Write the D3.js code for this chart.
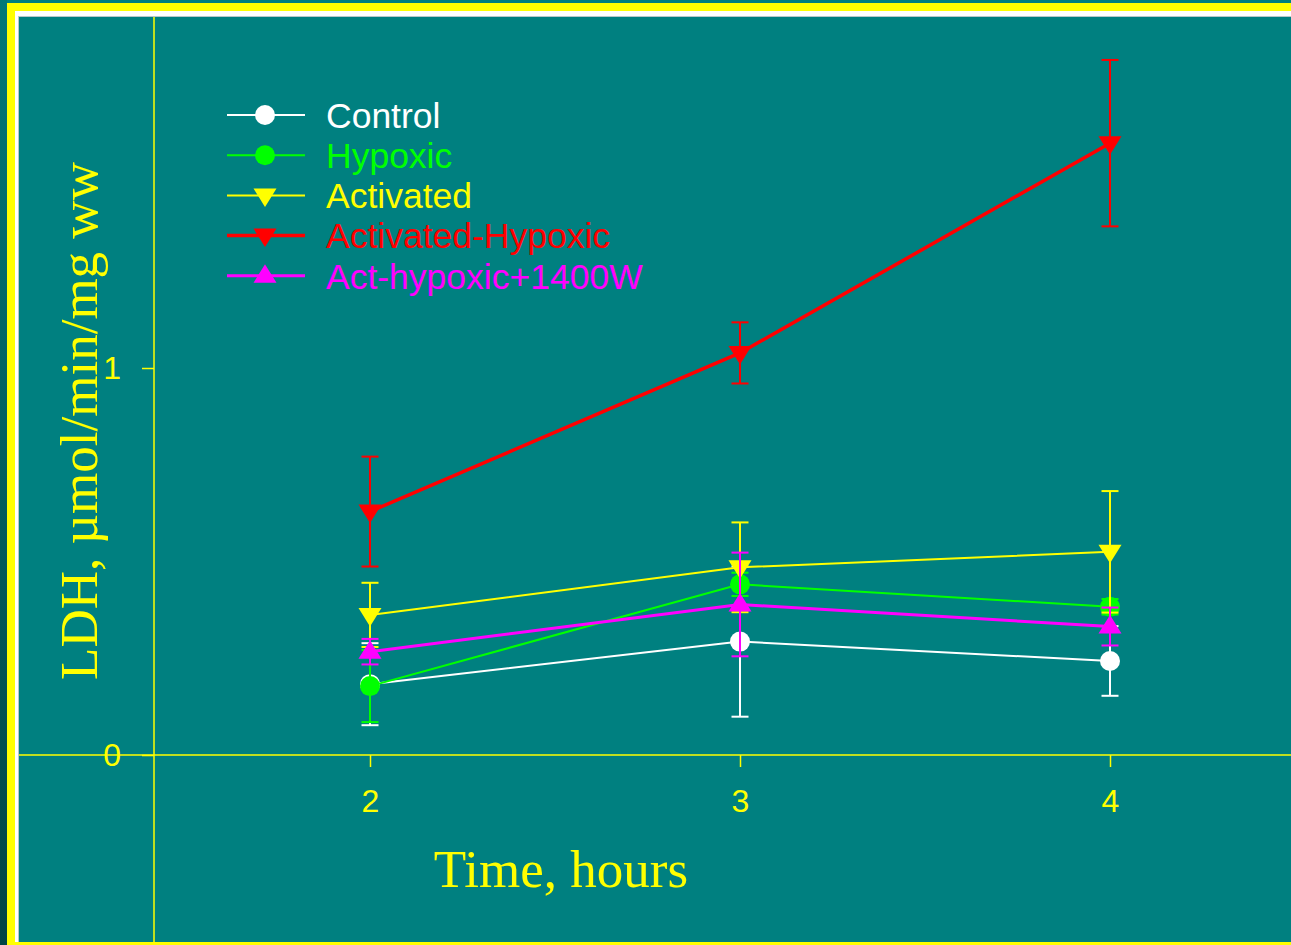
<!DOCTYPE html>
<html>
<head>
<meta charset="utf-8">
<script src="https://cdn.jsdelivr.net/npm/d3@7"></script>
<style>
  html, body { margin: 0; padding: 0; background: #008080; }
  svg { display: block; }
</style>
</head>
<body>
<svg id="chart" width="1291" height="945"></svg>
<script>
// LDH release over time, mean ± error for each treatment group
const hours = [2, 3, 4];

const seriesNames = ["Control", "Hypoxic", "Activated", "Activated-Hypoxic", "Act-hypoxic+1400W"];

const controlValues = [0.183, 0.293, 0.243];
const controlErrors = [0.106, 0.194, 0.090];

const hypoxicValues = [0.178, 0.441, 0.383];
const hypoxicErrors = [0.093, 0.030, 0.020];

const activatedValues = [0.362, 0.485, 0.525];
const activatedErrors = [0.083, 0.116, 0.157];

const actHypoxicValues = [0.629, 1.039, 1.581];
const actHypoxicErrors = [0.142, 0.079, 0.215];

const act1400WValues = [0.267, 0.389, 0.332];
const act1400WErrors = [0.033, 0.134, 0.049];

const xTicks = [2, 3, 4];
const yTicks = [0, 1];

const xTitle = "Time, hours";
const yTitle = "LDH, \u00b5mol/min/mg ww";

// styling per series
const styles = [
  { color: "#ffffff", marker: "circle", width: 2 },
  { color: "#00ff00", marker: "circle", width: 2 },
  { color: "#ffff00", marker: "down", width: 2 },
  { color: "#ff0000", marker: "down", width: 3.5 },
  { color: "#ff00ff", marker: "up", width: 3 }
];

const series = [
  { name: seriesNames[0], values: controlValues, errors: controlErrors },
  { name: seriesNames[1], values: hypoxicValues, errors: hypoxicErrors },
  { name: seriesNames[2], values: activatedValues, errors: activatedErrors },
  { name: seriesNames[3], values: actHypoxicValues, errors: actHypoxicErrors },
  { name: seriesNames[4], values: act1400WValues, errors: act1400WErrors }
].map((s, i) => Object.assign(s, styles[i], {
  points: hours.map((h, j) => ({ x: h, y: s.values[j], e: s.errors[j] }))
}));

const W = 1291, H = 945;
const svg = d3.select("#chart");

// page frame: shaded left edge, yellow border, white inner rim, teal panel
const defs = svg.append("defs");
const grad = defs.append("linearGradient").attr("id", "edgeShade")
  .attr("x1", 0).attr("y1", 0).attr("x2", 0).attr("y2", 1);
grad.append("stop").attr("offset", "0%").attr("stop-color", "#007878");
grad.append("stop").attr("offset", "100%").attr("stop-color", "#004444");

svg.append("rect").attr("width", W).attr("height", H).attr("fill", "#008080");
svg.append("rect").attr("x", 0).attr("y", 0).attr("width", 7).attr("height", H).attr("fill", "url(#edgeShade)");
svg.append("rect").attr("x", 7).attr("y", 3).attr("width", W - 7).attr("height", H - 3).attr("fill", "#ffff00");
svg.append("rect").attr("x", 15).attr("y", 11).attr("width", W - 15).attr("height", 931).attr("fill", "#ffffff");
svg.append("rect").attr("x", 18).attr("y", 16).attr("width", W - 18).attr("height", 926).attr("fill", "#b8c8c8");
svg.append("rect").attr("x", 19).attr("y", 17).attr("width", W - 19).attr("height", 925).attr("fill", "#008080");

// scales
const x = d3.scaleLinear().domain([2, 4]).range([370, 1110]);
const y = d3.scaleLinear().domain([0, 1]).range([755, 368]);

const panelLeft = 19, panelTop = 17, panelBottom = 942;
const yAxisAt = x.invert(154);

const axisColor = "#ffff00";
const sansFont = "'Liberation Sans', Arial, sans-serif";
const serifFont = "'Liberation Serif', 'Times New Roman', serif";

// long axis lines crossing the panel
svg.append("line")
  .attr("x1", x(yAxisAt)).attr("x2", x(yAxisAt))
  .attr("y1", panelTop).attr("y2", panelBottom)
  .attr("stroke", axisColor).attr("stroke-width", 1.5);
svg.append("line")
  .attr("x1", panelLeft).attr("x2", W)
  .attr("y1", y(0)).attr("y2", y(0))
  .attr("stroke", axisColor).attr("stroke-width", 1.5);

// y axis ticks
const yAxis = svg.append("g")
  .attr("transform", `translate(${x(yAxisAt)},0)`)
  .call(d3.axisLeft(y).tickValues(yTicks).tickFormat(d3.format("d")).tickSize(12).tickPadding(21));
yAxis.select(".domain").remove();
yAxis.selectAll("line").attr("stroke", axisColor).attr("stroke-width", 1.5);
yAxis.selectAll("text")
  .attr("fill", axisColor)
  .attr("font-family", sansFont)
  .attr("font-size", 32);

// x axis ticks
const xAxis = svg.append("g")
  .attr("transform", `translate(0,${y(0)})`)
  .call(d3.axisBottom(x).tickValues(xTicks).tickFormat(d3.format("d")).tickSize(12).tickPadding(22));
xAxis.select(".domain").remove();
xAxis.selectAll("line").attr("stroke", axisColor).attr("stroke-width", 1.5);
xAxis.selectAll("text")
  .attr("fill", axisColor)
  .attr("font-family", sansFont)
  .attr("font-size", 32);

// axis titles
svg.append("text")
  .attr("x", 561).attr("y", 887)
  .attr("text-anchor", "middle")
  .attr("fill", axisColor)
  .attr("font-family", serifFont)
  .attr("font-size", 53)
  .text(xTitle);

svg.append("text")
  .attr("transform", "translate(97,421) rotate(-90)")
  .attr("text-anchor", "middle")
  .attr("fill", axisColor)
  .attr("font-family", serifFont)
  .attr("font-size", 53)
  .text(yTitle);

// marker shapes
function markerPath(kind) {
  if (kind === "down") return "M-11.5,-7L11.5,-7L0,11.5Z";
  if (kind === "up") return "M-11.5,7L11.5,7L0,-11.5Z";
  return null;
}
function drawMarker(g, kind, color) {
  if (kind === "circle") {
    g.append("circle").attr("r", 10).attr("fill", color);
  } else {
    g.append("path").attr("d", markerPath(kind)).attr("fill", color);
  }
}

const line = d3.line().x(d => x(d.x)).y(d => y(d.y));
const capHalf = 8.5;

series.forEach(s => {
  const g = svg.append("g").attr("class", "series");
  g.append("path")
    .datum(s.points)
    .attr("d", line)
    .attr("fill", "none")
    .attr("stroke", s.color)
    .attr("stroke-width", s.width);

  const eb = g.selectAll(".err").data(s.points).join("g").attr("class", "err");
  eb.append("line")
    .attr("x1", d => x(d.x)).attr("x2", d => x(d.x))
    .attr("y1", d => y(d.y - d.e)).attr("y2", d => y(d.y + d.e))
    .attr("stroke", s.color).attr("stroke-width", 2);
  eb.append("line")
    .attr("x1", d => x(d.x) - capHalf).attr("x2", d => x(d.x) + capHalf)
    .attr("y1", d => y(d.y + d.e)).attr("y2", d => y(d.y + d.e))
    .attr("stroke", s.color).attr("stroke-width", 2);
  eb.append("line")
    .attr("x1", d => x(d.x) - capHalf).attr("x2", d => x(d.x) + capHalf)
    .attr("y1", d => y(d.y - d.e)).attr("y2", d => y(d.y - d.e))
    .attr("stroke", s.color).attr("stroke-width", 2);

  s.points.forEach(d => {
    const m = g.append("g").attr("transform", `translate(${x(d.x)},${y(d.y)})`);
    drawMarker(m, s.marker, s.color);
  });
});

// legend
const legend = svg.append("g").attr("transform", "translate(227,115)");
series.forEach((s, i) => {
  const row = legend.append("g").attr("transform", `translate(0,${i * 40.2})`);
  row.append("line")
    .attr("x1", 0).attr("x2", 78).attr("y1", 0).attr("y2", 0)
    .attr("stroke", s.color).attr("stroke-width", s.width);
  const m = row.append("g").attr("transform", "translate(38,0)");
  drawMarker(m, s.marker, s.color);
  row.append("text")
    .attr("x", 99).attr("y", 0).attr("dy", "0.36em")
    .attr("fill", s.color)
    .attr("font-family", sansFont)
    .attr("font-size", 35.5)
    .text(s.name);
});
</script>
</body>
</html>
